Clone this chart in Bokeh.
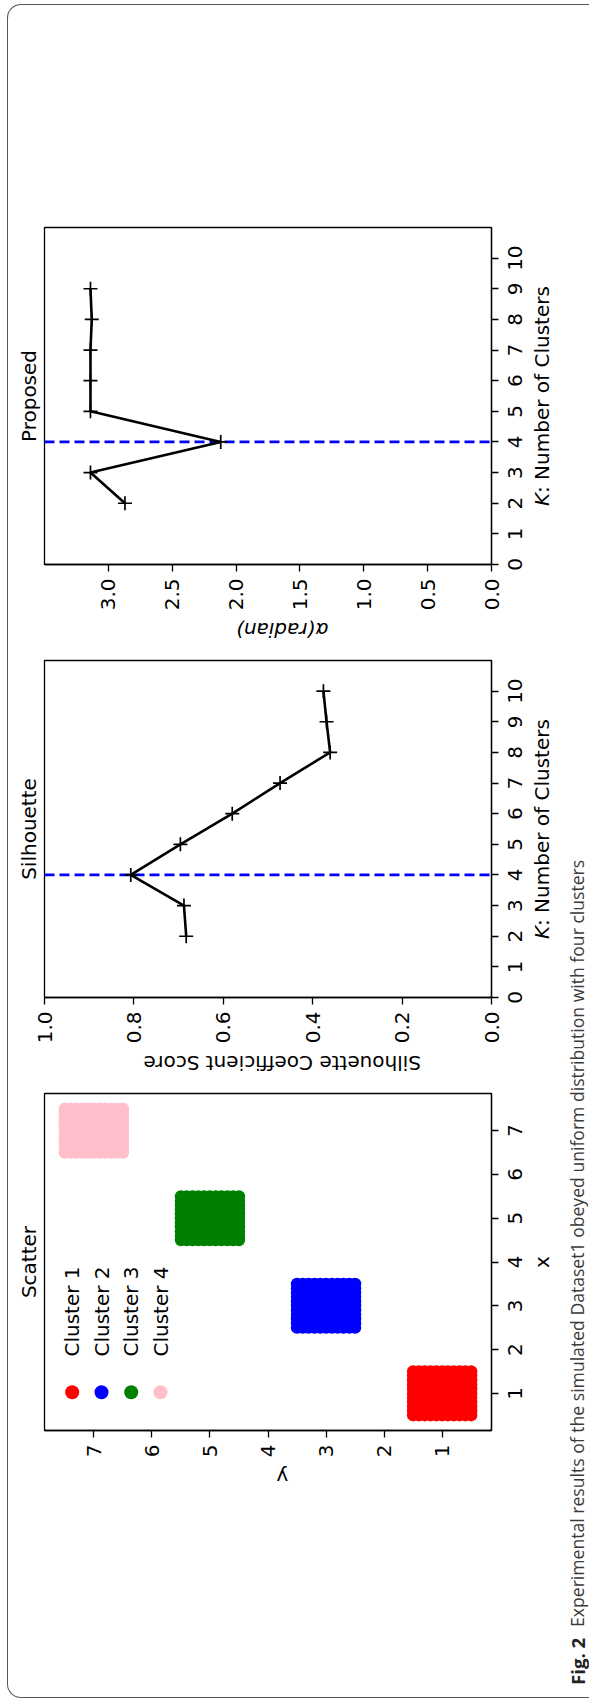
import math
from bokeh.plotting import figure
from bokeh.layouts import column, row
from bokeh.models import Range1d, LinearAxis, FixedTicker, Label, Span, InlineStyleSheet
from bokeh.embed import file_html
from bokeh.resources import INLINE

# ---------------- data ----------------
k_proposed = [2, 3, 4, 5, 6, 7, 8, 9]
alpha_proposed = [2.87, 3.14, 2.12, 3.14, 3.14, 3.14, 3.13, 3.14]
k_silhouette = [2, 3, 4, 5, 6, 7, 8, 9, 10]
silhouette_score = [0.683, 0.688, 0.807, 0.696, 0.580, 0.473, 0.361, 0.369, 0.376]
best_k = 4

cluster_names = ["Cluster 1", "Cluster 2", "Cluster 3", "Cluster 4"]
cluster_colors = ["#ff0000", "#0000ff", "#008000", "#ffc0cb"]
cluster_x_centers = [1, 3, 5, 7]
cluster_y_centers = [1, 3, 5, 7]
cluster_offsets = [-0.5, -0.4, -0.3, -0.2, -0.1, 0.0, 0.1, 0.2, 0.3, 0.4, 0.5]

k_ticks = [0, 1, 2, 3, 4, 5, 6, 7, 8, 9, 10]
k_tick_labels = ["0", "1", "2", "3", "4", "5", "6", "7", "8", "9", "10"]
alpha_ticks = [0.0, 0.5, 1.0, 1.5, 2.0, 2.5, 3.0]
alpha_tick_labels = ["0.0", "0.5", "1.0", "1.5", "2.0", "2.5", "3.0"]
sil_ticks = [0.0, 0.2, 0.4, 0.6, 0.8, 1.0]
sil_tick_labels = ["0.0", "0.2", "0.4", "0.6", "0.8", "1.0"]
xy_ticks = [1, 2, 3, 4, 5, 6, 7]
xy_tick_labels = ["1", "2", "3", "4", "5", "6", "7"]

titles = ["Proposed", "Silhouette", "Scatter"]
k_label_italic = "K"
k_label_rest = ": Number of Clusters"
alpha_axis_label = "\u03b1(radian)"
sil_axis_label = "Silhouette Coefficient Score"
scatter_x_label = "x"
scatter_y_label = "y"
caption_bold = "Fig. 2"
caption_text = "Experimental results of the simulated Dataset1 obeyed uniform distribution with four clusters"

# ---------------- style / layout ----------------
FONT = "DejaVu Sans"
FS = "20px"
W = 503                   # width of the chart column
FL, FR = 44, 491          # frame left / right on the page
HALF_PI = math.pi / 2


def strip(x0, x1, y0, y1):
    """A blank figure covering page box [x0,x1]x[y0,y1], data units = page pixels."""
    p = figure(width=x1 - x0, height=y1 - y0,
               x_range=Range1d(x0, x1), y_range=Range1d(y1, y0),
               output_backend="svg", toolbar_location=None,
               x_axis_location=None, y_axis_location=None,
               min_border_left=0, min_border_right=0,
               min_border_top=0, min_border_bottom=0)
    p.grid.visible = False
    p.outline_line_color = None
    p.background_fill_color = "white"
    p.border_fill_color = "white"
    return p


def put(p, x, y, text, angle, align="center", style="normal", size=FS,
        font=FONT, color="black"):
    p.add_layout(Label(x=x, y=y, text=text, angle=angle, text_align=align,
                       text_baseline="middle", text_font=font,
                       text_font_size=size, text_font_style=style,
                       text_color=color))


def make_fig(title, page_top, height, frame_top, frame_bottom, xr, yr, xticks, yticks,
             xover=None):
    p = figure(width=W, height=height, x_range=xr, y_range=yr,
               output_backend="svg", toolbar_location=None,
               x_axis_location=None, y_axis_location=None,
               title=title, title_location="left",
               min_border_left=FL, min_border_right=W - FR,
               min_border_top=frame_top - page_top,
               min_border_bottom=page_top + height - frame_bottom)
    p.title.align = "center"
    p.title.text_font = FONT
    p.title.text_font_size = FS
    p.title.text_font_style = "normal"
    p.title.text_color = "black"
    p.title.standoff = 8
    p.grid.visible = False
    p.outline_line_color = "black"
    p.outline_line_width = 1.3
    p.background_fill_color = "white"
    p.border_fill_color = "white"
    xa = LinearAxis(ticker=FixedTicker(ticks=xticks))
    if xover:
        xa.major_label_overrides = xover
    ya = LinearAxis(ticker=FixedTicker(ticks=yticks))
    for ax in (xa, ya):
        ax.axis_line_color = "black"
        ax.axis_line_width = 1.3
        ax.major_tick_line_color = "black"
        ax.major_tick_line_width = 1.3
        ax.major_tick_in = 0
        ax.major_tick_out = 7
        ax.minor_tick_line_color = None
        ax.major_label_text_font = FONT
        ax.major_label_text_color = "black"
        ax.major_label_orientation = HALF_PI
    xa.major_label_text_font_size = FS
    xa.major_label_standoff = 7
    # right-axis tick texts are written beside the axis in the right strip
    ya.major_label_overrides = {t: "" for t in yticks}
    ya.major_label_text_font_size = "0px"
    ya.major_label_standoff = 0
    p.add_layout(xa, "below")
    p.add_layout(ya, "right")
    return p


def add_best_k(p):
    p.add_layout(Span(location=best_k, dimension="width", line_color="#0000ff",
                      line_width=2.8, line_dash="10 5", level="underlay"))


# ---------- Figure 1: Proposed ----------
F1_TOP, F1_BOT = 227, 564
f1 = make_fig(titles[0], 0, 616, F1_TOP, F1_BOT, Range1d(3.5, 0), Range1d(0, 11),
              alpha_ticks, k_ticks,
              xover={t: s for t, s in zip(alpha_ticks, alpha_tick_labels)})
add_best_k(f1)
f1.line(alpha_proposed, k_proposed, line_color="black", line_width=2.6)
f1.scatter(alpha_proposed, k_proposed, marker="cross", size=14, line_width=1.7,
           line_color="black")
s1 = strip(0, W, 616, 648)
put(s1, 267.5, 629, alpha_axis_label, math.pi, style="italic")

# ---------- Figure 2: Silhouette ----------
F2_TOP, F2_BOT = 660, 997
f2 = make_fig(titles[1], 648, 400, F2_TOP, F2_BOT, Range1d(1.0, 0), Range1d(0, 11),
              sil_ticks, k_ticks,
              xover={t: s for t, s in zip(sil_ticks, sil_tick_labels)})
add_best_k(f2)
f2.line(silhouette_score, k_silhouette, line_color="black", line_width=2.6)
f2.scatter(silhouette_score, k_silhouette, marker="cross", size=14, line_width=1.7,
           line_color="black")
s2 = strip(0, W, 1048, 1080)
put(s2, 267.5, 1062, sil_axis_label, math.pi)

# ---------- Figure 3: Scatter ----------
F3_TOP, F3_BOT = 1093, 1430
f3 = make_fig(titles[2], 1080, 380, F3_TOP, F3_BOT, Range1d(7.85, 0.15),
              Range1d(0.15, 7.85), xy_ticks, xy_ticks)
for name, color, cx, cy in zip(cluster_names, cluster_colors,
                               cluster_x_centers, cluster_y_centers):
    px, py = [], []
    for dx in cluster_offsets:
        for dy in cluster_offsets:
            px.append(cy + dy)   # horizontal axis shows y
            py.append(cx + dx)   # vertical axis shows x
    f3.scatter(px, py, size=12.4, fill_color=color, line_color=None)


def f3_data(px, py):
    xr, yr = f3.x_range, f3.y_range
    return (xr.start + (px - FL) / (FR - FL) * (xr.end - xr.start),
            yr.start + (F3_BOT - py) / (F3_BOT - F3_TOP) * (yr.end - yr.start))


legend_cols = [71.7, 101.0, 130.7, 160.0]
for i, (name, color) in enumerate(zip(cluster_names, cluster_colors)):
    lx, ly = f3_data(legend_cols[i], 1391.7)
    f3.scatter([lx], [ly], size=14, fill_color=color, line_color=None)
    tx, ty = f3_data(legend_cols[i], 1311)
    put(f3, tx, ty, name, HALF_PI)

s3 = strip(0, W, 1460, 1699)
put(s3, 267.5, 1476, scatter_y_label, math.pi)

# ---------- right strip: tick texts, K / x labels and caption ----------
rs = strip(W, 589, 0, 1699)


def page_y(fig, top, bot, v):
    yr = fig.y_range
    return bot - (v - yr.start) / (yr.end - yr.start) * (bot - top)


for fig, top, bot, ticks, labels in ((f1, F1_TOP, F1_BOT, k_ticks, k_tick_labels),
                                     (f2, F2_TOP, F2_BOT, k_ticks, k_tick_labels),
                                     (f3, F3_TOP, F3_BOT, xy_ticks, xy_tick_labels)):
    for t, s in zip(ticks, labels):
        put(rs, 514.5, page_y(fig, top, bot, t), s, HALF_PI)

for top, bot in ((F1_TOP, F1_BOT), (F2_TOP, F2_BOT)):
    p_join = (top + bot) / 2 + 97
    put(rs, 541, p_join, k_label_italic, HALF_PI, align="right", style="italic")
    put(rs, 541, p_join, k_label_rest, HALF_PI, align="left")
put(rs, 541, (F3_TOP + F3_BOT) / 2, scatter_x_label, HALF_PI)
put(rs, 576.5, 1684.5, caption_bold, HALF_PI, align="left", style="bold",
    size="18.6px", font="Open Sans", color="#222222")
put(rs, 576.5, 1626.5, caption_text, HALF_PI, align="left", size="17.6px",
    font="Open Sans", color="#3a3a3a")

border_css = InlineStyleSheet(css="""
:host { position: relative; }
:host::after {
  content: "";
  position: absolute;
  left: 7px; top: 4px; width: 582px; height: 1694px;
  border: 1px solid #555555; border-right: none;
  border-top-left-radius: 14px; border-bottom-left-radius: 14px;
  box-sizing: border-box; pointer-events: none; z-index: 100;
}
""")

layout = row(column(f1, s1, f2, s2, f3, s3), rs, stylesheets=[border_css])

open("out.html", "w").write(file_html(layout, INLINE))
